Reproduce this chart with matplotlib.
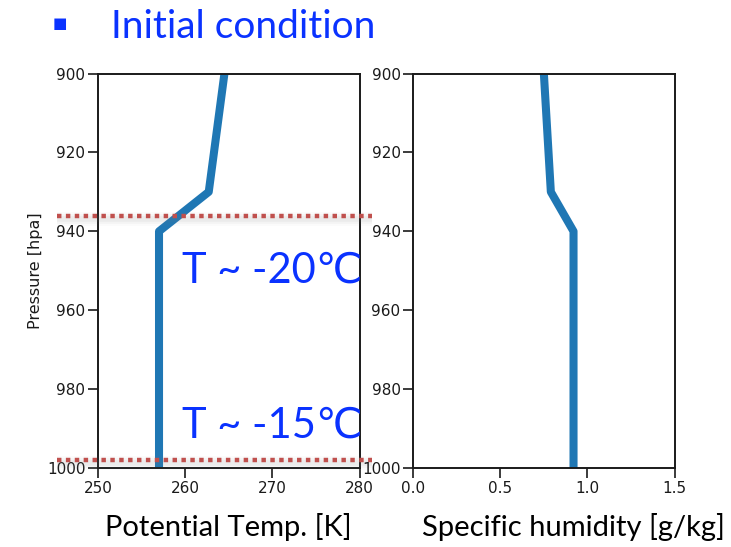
import numpy as np
import matplotlib
matplotlib.use('Agg')
import matplotlib.pyplot as plt
import matplotlib.transforms as mtransforms

# Initial sounding profile
pressure = [900, 930, 940, 1000]
theta = [264.5, 262.7, 257.0, 257.0]
qv = [0.75, 0.79, 0.92, 0.92]

# Levels marked with dotted reference lines, and their temperature notes
marked_levels = [936, 998]
level_notes = ['T ~ -20\u2103', 'T ~ -15\u2103']
note_levels = [952.9, 992.4]

p_ticks = [900, 920, 940, 960, 980, 1000]
theta_ticks = [250, 260, 270, 280]
q_ticks = [0.0, 0.5, 1.0, 1.5]

blue_text = '#0a32ff'
line_color = '#1f77b4'
red_dot = '#c0504d'

fig = plt.figure(figsize=(7.31, 5.47), dpi=100)

ax1 = fig.add_axes([0.134, 0.1444, 0.358, 0.7212])
ax2 = fig.add_axes([0.565, 0.1444, 0.358, 0.7212])

ax1.plot(theta, pressure, color=line_color, linewidth=5.8, solid_capstyle='butt')
ax2.plot(qv, pressure, color=line_color, linewidth=5.8, solid_capstyle='butt')

ax1.set_xlim(250, 280)
ax2.set_xlim(0, 1.5)
for ax in (ax1, ax2):
    ax.set_ylim(1000, 900)
    ax.set_yticks(p_ticks)
    ax.tick_params(axis='both', labelsize=11, length=7, width=1.2, pad=2,
                   colors='#1a1a1a')
    for s in ax.spines.values():
        s.set_linewidth(1.4)
        s.set_color('#1a1a1a')
ax1.set_xticks(theta_ticks)
ax2.set_xticks(q_ticks)
ax1.set_ylabel('Pressure [hpa]', fontsize=11.5, color='#1a1a1a', labelpad=3)

# dotted reference lines across the left panel, with a soft shadow
trans = mtransforms.blended_transform_factory(fig.transFigure, ax1.transData)
shadow = mtransforms.offset_copy(trans, fig=fig, x=0, y=-3, units='dots')
for lev in marked_levels:
    for k, a in enumerate([0.07, 0.05, 0.03]):
        ax1.plot([0.078, 0.509], [lev, lev], transform=shadow,
                 color='gray', linewidth=4 + 3 * k, alpha=a,
                 clip_on=False, solid_capstyle='butt', zorder=3)
    ax1.plot([0.078, 0.509], [lev, lev], transform=trans, color=red_dot,
             linewidth=3.2, linestyle=(0, (1, 1)), dash_capstyle='butt',
             clip_on=False, zorder=4)

for note, lev in zip(level_notes, note_levels):
    ax1.text(259.6, lev, note, fontsize=30, color=blue_text,
             family=['Lato', 'DejaVu Sans'], va='baseline', ha='left',
             zorder=5)

# slide heading and axis captions
fig.text(0.072, 0.957, '\u25a0', fontsize=11, color=blue_text,
         family='DejaVu Sans', va='center', ha='left')
fig.text(0.152, 0.9305, 'Initial condition', fontsize=28, color=blue_text,
         family='Lato', va='baseline', ha='left')
fig.text(0.3126, 0.021, 'Potential Temp. [K]', fontsize=21, color='black',
         family='Lato', va='baseline', ha='center')
fig.text(0.7845, 0.021, 'Specific humidity [g/kg]', fontsize=21, color='black',
         family='Lato', va='baseline', ha='center')

fig.savefig('out.png', dpi=100)
